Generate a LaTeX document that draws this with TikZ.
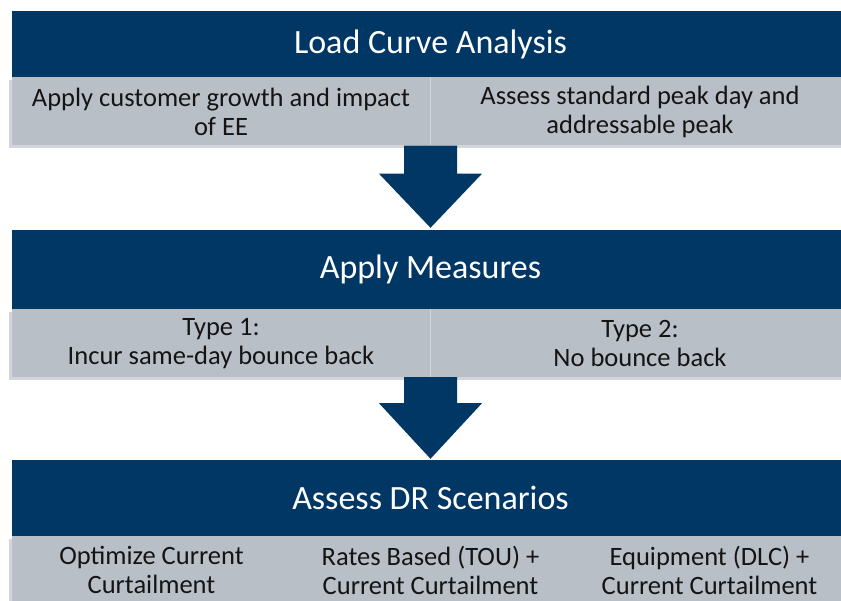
\documentclass[tikz,border=0pt]{standalone}
\usepackage{fontspec}
\setmainfont{Carlito}
\usetikzlibrary{calc,shadows}
\definecolor{drnavy}{RGB}{0,55,100}
\definecolor{drgray}{RGB}{185,191,199}
\definecolor{drshade}{RGB}{210,214,219}
\definecolor{drtext}{RGB}{20,20,20}

\begin{document}
\begin{tikzpicture}[x=1pt,y=-1pt,
  drband/.style={fill=drnavy,minimum width=837pt,inner sep=0pt,text=white,
    font=\fontsize{34}{40}\selectfont},
  drbar/.style={fill=drgray,minimum width=837pt,minimum height=68pt,inner sep=0pt,
    drop shadow={shadow xshift=-3pt,shadow yshift=-3pt,fill=drshade,opacity=1}},
  drcell/.style={align=center,text=drtext,inner sep=0pt,
    font=\fontsize{26.5}{29}\selectfont},
  drsep/.style={draw=drshade,line width=1.5pt},
  drarrow/.style={fill=drnavy}
]
  \useasboundingbox (0,0) rectangle (841,601);

  % Step 1: Load Curve Analysis
  \node[drband,minimum height=67pt] (load) at (430.5,44.5) {Load Curve Analysis};
  \node[drbar] (loadbar) at (430.5,111.5) {};
  \draw[drsep] (loadbar.north) -- (loadbar.south);
  \node[drcell] (growth) at (221,112) {Apply customer growth and impact\\of EE};
  \node[drcell] (peak) at (640,112) {Assess standard peak day and\\addressable peak};

  % Step 2: Apply Measures
  \node[drband,minimum height=79pt] (measures) at (430.5,269.5) {Apply Measures};
  \node[drbar] (measbar) at (430.5,343) {};
  \draw[drsep] (measbar.north) -- (measbar.south);
  \node[drcell] (type1) at (221,343.5) {Type 1:\\Incur same-day bounce back};
  \node[drcell] (type2) at (640,343.5) {Type 2:\\No bounce back};

  % Step 3: Assess DR Scenarios
  \node[drband,minimum height=76pt] (scenarios) at (430.5,498) {Assess DR Scenarios};
  \node[drbar] (scenbar) at (430.5,570) {};
  \node[drcell] (optimize) at (151.5,570) {Optimize Current\\Curtailment};
  \node[drcell] (rates) at (430.5,570) {Rates Based (TOU) +\\Current Curtailment};
  \node[drcell] (equip) at (709.5,570) {Equipment (DLC) +\\Current Curtailment};

  % Arrows between steps
  \fill[drarrow] ($(loadbar.south)+(-26.5,0)$) -- ++(0,28) -- ++(-25,0)
    -- ($(measures.north)+(0,-2)$) -- ($(loadbar.south)+(51.5,28)$)
    -- ++(-25,0) -- ++(0,-28) -- cycle;
  \fill[drarrow] ($(measbar.south)+(-26.5,0)$) -- ++(0,26) -- ++(-25,0)
    -- ($(scenarios.north)+(0,-1)$) -- ($(measbar.south)+(51.5,26)$)
    -- ++(-25,0) -- ++(0,-26) -- cycle;
\end{tikzpicture}
\end{document}
